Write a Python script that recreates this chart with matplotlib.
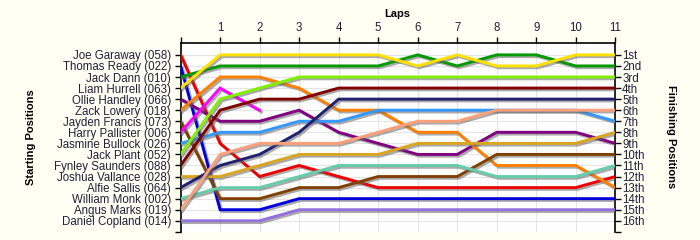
# Race position chart: starting grid on the left, finishing order on the right

import matplotlib.pyplot as plt
import matplotlib.patheffects as pe
import numpy as np

drivers = ['Joe Garaway (058)', 'Thomas Ready (022)', 'Jack Dann (010)',
           'Liam Hurrell (063)', 'Ollie Handley (066)', 'Zack Lowery (018)',
           'Jayden Francis (073)', 'Harry Pallister (006)', 'Jasmine Bullock (026)',
           'Jack Plant (052)', 'Fynley Saunders (088)', 'Joshua Vallance (028)',
           'Alfie Sallis (064)', 'William Monk (002)', 'Angus Marks (019)',
           'Daniel Copland (014)']

colors = ['#EE0000', '#0000DD', '#009A00', '#FFE000', '#800080', '#FF8000',
          '#804000', '#FF00FF', '#3399FF', '#80F000', '#800000', '#DAA520',
          '#202070', '#66CDAA', '#FFA07A', '#9370DB']

# position of each driver at the end of each lap (index 0 = start)
positions = [
    [1, 9, 12, 11, 12, 13, 13, 13, 13, 13, 13, 12],
    [2, 15, 15, 14, 14, 14, 14, 14, 14, 14, 14, 14],
    [3, 2, 2, 2, 2, 2, 1, 2, 1, 1, 2, 2],
    [4, 1, 1, 1, 1, 1, 2, 1, 2, 2, 1, 1],
    [5, 7, 7, 6, 8, 9, 10, 10, 8, 8, 8, 9],
    [6, 3, 3, 4, 6, 6, 8, 8, 11, 11, 11, 13],
    [7, 14, 14, 13, 13, 12, 12, 12, 10, 10, 10, 10],
    [8, 4, 6],
    [9, 8, 8, 7, 7, 6, 6, 6, 6, 6, 6, 7],
    [10, 5, 4, 3, 3, 3, 3, 3, 3, 3, 3, 3],
    [11, 6, 5, 5, 4, 4, 4, 4, 4, 4, 4, 4],
    [12, 12, 11, 10, 10, 10, 9, 9, 9, 9, 9, 8],
    [13, 11, 10, 8, 5, 5, 5, 5, 5, 5, 5, 5],
    [14, 13, 13, 12, 11, 11, 11, 11, 12, 12, 12, 11],
    [15, 10, 9, 9, 9, 8, 7, 7, 6, 6, 6, 6],
    [16, 16, 16, 15, 15, 15, 15, 15, 15, 15, 15, 15],
]

finish_labels = ['1st', '2nd', '3rd', '4th', '5th', '6th', '7th', '8th', '9th',
                 '10th', '11th', '12th', '13th', '14th', '15th', '16th']
laps = 11

plt.rcParams['font.family'] = ['Liberation Sans', 'DejaVu Sans']
txt = '#20203A'

fig = plt.figure(figsize=(7, 2.4), dpi=100, facecolor='#FFFFF4')
ax = fig.add_axes([0.258, 0.034, 0.621, 0.788])
ax.set_facecolor('white')

shadow = [pe.SimpleLineShadow(offset=(1.3, -1.3), shadow_color='#666666', alpha=0.55),
          pe.Normal()]
for pos, c in zip(positions, colors):
    ax.plot(np.arange(len(pos)), pos, color=c, lw=2.1, solid_joinstyle='miter',
            path_effects=shadow, zorder=3)

ax.set_xlim(0, laps)
ax.set_ylim(16.95, -0.1)

ax.set_xticks(np.arange(laps + 1))
ax.set_xticklabels([''] + [str(i) for i in range(1, laps + 1)])
ax.xaxis.tick_top()
ax.set_yticks(np.arange(1, 18))
ax.set_yticklabels(drivers + [''])
ax.grid(True, color='#E4E4E4', lw=0.8, zorder=0)
ax.tick_params(axis='both', direction='out', length=4, width=1, colors='black',
               labelcolor=txt, labelsize=8.3, pad=3)
ax.tick_params(axis='x', pad=2)

for s in ['left', 'top', 'right']:
    ax.spines[s].set_linewidth(1.2)
ax.spines['bottom'].set_visible(False)

ax2 = ax.twinx()
ax2.set_ylim(ax.get_ylim())
ax2.set_yticks(np.arange(1, 18))
ax2.set_yticklabels(finish_labels + [''])
ax2.tick_params(axis='y', direction='out', length=4, width=1, labelcolor=txt,
                labelsize=8.3, pad=1)
for s in ['left', 'top', 'right', 'bottom']:
    ax2.spines[s].set_visible(False)

fig.text(0.567, 0.94, 'Laps', ha='center', va='center', fontsize=8, fontweight='bold')
fig.text(0.044, 0.43, 'Starting Positions', ha='center', va='center', rotation=90,
         fontsize=8, fontweight='bold')
fig.text(0.958, 0.43, 'Finishing Positions', ha='center', va='center', rotation=270,
         fontsize=8, fontweight='bold')

fig.savefig('out.png', dpi=100, facecolor=fig.get_facecolor())
